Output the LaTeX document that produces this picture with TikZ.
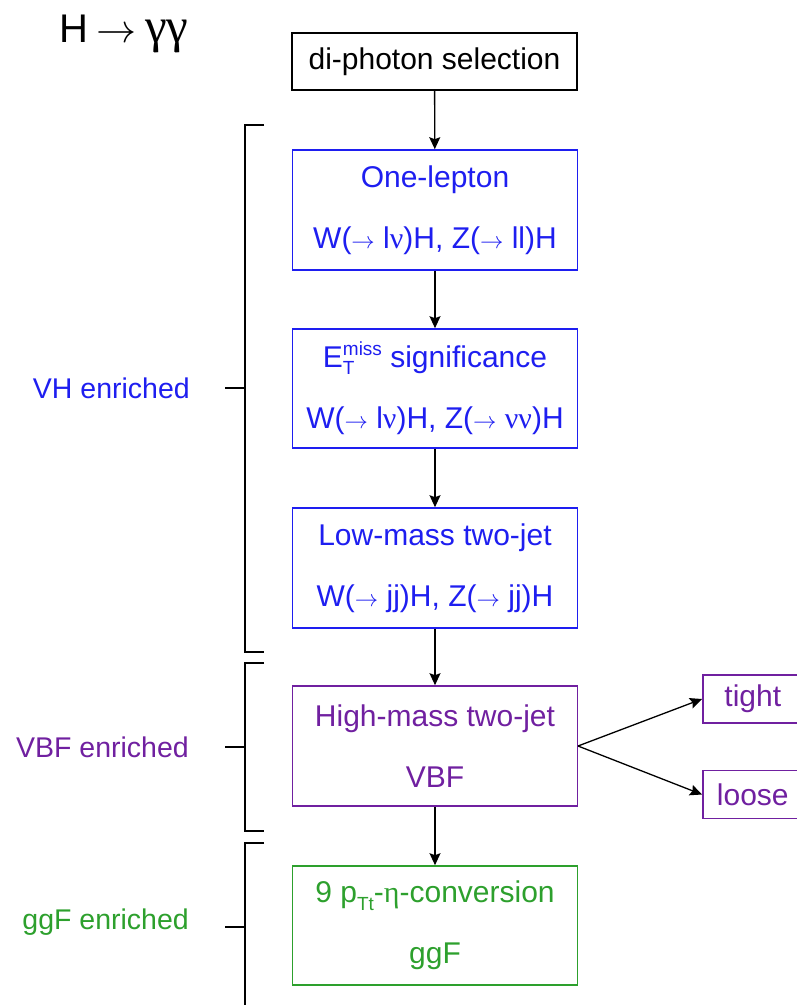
\documentclass[tikz,border=0pt]{standalone}
\usepackage{graphicx}
\usepackage{fontspec}
\setmainfont{Liberation Sans}
\newfontfamily\symf{Liberation Serif}
\usetikzlibrary{arrows.meta}
\definecolor{vhblue}{RGB}{30,30,240}
\definecolor{vbfpurple}{RGB}{112,32,160}
\definecolor{ggfgreen}{RGB}{45,160,45}
\newcommand{\subsup}[2]{\makebox[0pt][l]{\raisebox{-7pt}{\fontsize{19}{19}\selectfont #1}}\raisebox{12pt}{\fontsize{19}{19}\selectfont #2}}
\newcommand{\subonly}[1]{\raisebox{-8pt}{\fontsize{19}{19}\selectfont #1}}
\newcommand{\rarr}{\resizebox{0.78em}{!}{$\rightarrow$}}
\newcommand{\bigrarr}{\resizebox{1em}{!}{$\rightarrow$}}
\tikzset{
  catbox/.style={draw, line width=1.6pt, minimum width=285pt, minimum height=120pt, align=center, inner sep=0pt, font=\fontsize{30}{61}\selectfont},
  vhbox/.style={catbox, draw=vhblue, text=vhblue},
  vbfbox/.style={catbox, draw=vbfpurple, text=vbfpurple},
  ggfbox/.style={catbox, draw=ggfgreen, text=ggfgreen},
  smallbox/.style={draw=vbfpurple, text=vbfpurple, line width=1.6pt, minimum width=100pt, minimum height=48pt, inner sep=0pt, font=\fontsize{30}{30}\selectfont},
  flow/.style={-{Stealth[length=12pt,width=11pt,inset=2pt]}, line width=1.3pt, black},
  brack/.style={line width=1.8pt, black},
  catlabel/.style={anchor=east, inner sep=0pt, font=\fontsize{28.5}{30}\selectfont}
}
\begin{document}
\begin{tikzpicture}[x=1pt,y=-1pt]
\useasboundingbox (0,0) rectangle (796,1005);
% title
\node[anchor=base west, inner sep=0pt, font=\fontsize{40}{40}\selectfont] (title) at (59,42) {H\hspace{8pt}\bigrarr\hspace{9pt}{\fontsize{49}{49}\selectfont\symf γγ}};
% boxes
\node[catbox, draw=black, minimum height=57pt, line width=1.4pt] (sel) at (434.5,61.5) {di-photon selection};
\node[vhbox] (onel) at (435,210) {One-lepton\\W(\rarr\ l{\symf ν})H, Z(\rarr\ ll)H};
\node[vhbox, minimum height=119pt] (met) at (435,388.5) {E\subsup{T}{miss} significance\\W(\rarr\ l{\symf ν})H, Z(\rarr\ {\symf νν})H};
\node[vhbox] (lowm) at (435,568) {Low-mass two-jet\\W(\rarr\ jj)H, Z(\rarr\ jj)H};
\node[vbfbox] (highm) at (435,746) {High-mass two-jet\\VBF};
\node[ggfbox, minimum height=119pt] (ggf) at (435,925.5) {9 p\subonly{Tt}-{\symf η}-conversion\\ggF};
\node[smallbox, anchor=west] (tight) at (702,699) {tight};
\node[smallbox, anchor=west] (loose) at (702,794.5) {loose};
% arrows
\draw[flow] (sel) -- (onel);
\draw[flow] (onel) -- (met);
\draw[flow] (met) -- (lowm);
\draw[flow] (lowm) -- (highm);
\draw[flow] (highm) -- (ggf);
\coordinate (split) at (578,746);
\draw[flow] (split) -- (tight.west);
\draw[flow] (split) -- (loose.west);
% brackets
\draw[brack] (264,125) -- (245,125) -- (245,652) -- (264,652);
\draw[brack] (225,388) -- (245,388);
\draw[brack] (264,663) -- (245,663) -- (245,831) -- (264,831);
\draw[brack] (225,747) -- (245,747);
\draw[brack] (264,843) -- (245,843) -- (245,1010);
\draw[brack] (225,927) -- (245,927);
% labels
\node[catlabel, text=vhblue] (vhl) at (190,388) {VH enriched};
\node[catlabel, text=vbfpurple] (vbfl) at (189,747) {VBF enriched};
\node[catlabel, text=ggfgreen] (ggfl) at (189,922) {ggF enriched};
\end{tikzpicture}
\end{document}
